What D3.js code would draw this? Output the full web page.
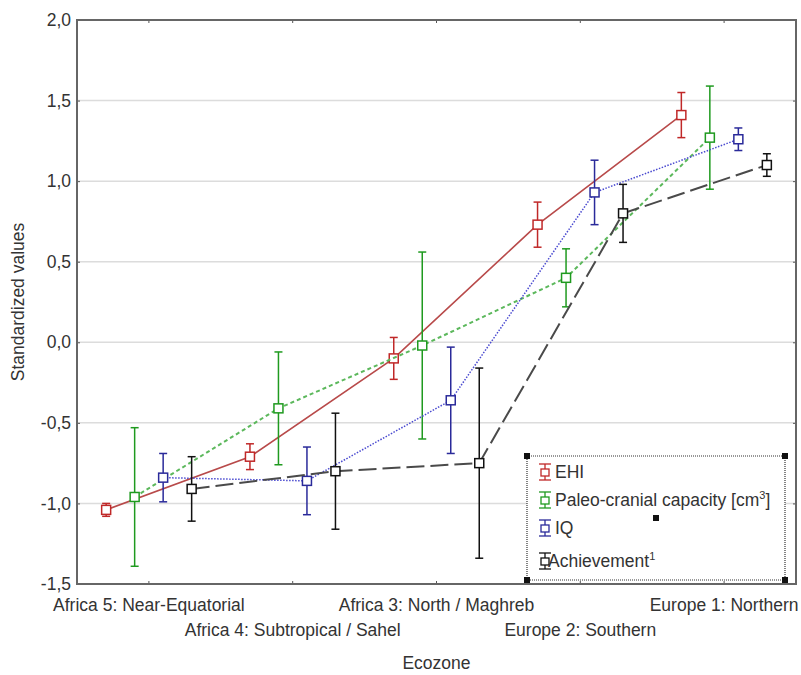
<!DOCTYPE html>
<html>
<head>
<meta charset="utf-8">
<script src="https://cdn.jsdelivr.net/npm/d3@7"></script>
<style>
  body { margin: 0; background: #fff; }
  svg { font-family: 'Liberation Sans', Arial, sans-serif; }
</style>
</head>
<body>
<svg class="canvas" width="801" height="675"></svg>
<script>
'use strict'

const zones = [
  'Africa 5: Near-Equatorial',
  'Africa 4: Subtropical / Sahel',
  'Africa 3: North / Maghreb',
  'Europe 2: Southern',
  'Europe 1: Northern',
]
const seriesNames = ['EHI', 'Paleo-cranial capacity', 'IQ', 'Achievement']
const ehiMean = [-1.04, -0.71, -0.1, 0.73, 1.41]
const ehiErr = [0.04, 0.08, 0.13, 0.14, 0.14]
const paleoMean = [-0.96, -0.41, -0.02, 0.4, 1.27]
const paleoErr = [0.43, 0.35, 0.58, 0.18, 0.32]
const iqMean = [-0.84, -0.86, -0.36, 0.93, 1.26]
const iqErr = [0.15, 0.21, 0.33, 0.2, 0.07]
const achMean = [-0.91, -0.8, -0.75, 0.8, 1.1]
const achErr = [0.2, 0.36, 0.59, 0.18, 0.07]
const yTicks = [-1.5, -1, -0.5, 0, 0.5, 1, 1.5, 2]

const series = [
  { name: seriesNames[0], mean: ehiMean, err: ehiErr, line: '#b84a4a', bar: '#c02828', dash: null, w: 1.6 },
  { name: seriesNames[1], mean: paleoMean, err: paleoErr, line: '#5cb85c', bar: '#1f9a1f', dash: '4,3', w: 2 },
  { name: seriesNames[2], mean: iqMean, err: iqErr, line: '#4a4ad0', bar: '#2a2a9a', dash: '1.5,1.5', w: 1.5 },
  { name: seriesNames[3], mean: achMean, err: achErr, line: '#4a4a4a', bar: '#111', dash: '18,6', w: 2 },
]

const svg = d3.select('.canvas')
const pLeft = 77, pRight = 796, pTop = 20, pBottom = 584
const fontSize = 17.5

const x = d3.scaleBand().domain(zones).range([pLeft, pRight])
const y = d3.scaleLinear().domain([-1.5, 2]).range([pBottom, pTop])
const offset = i => (i - 1.5) * 28.5
const fmt = v => d3.format('.1f')(v).replace('.', ',').replace('−', '-')

// Gridlines.
svg.append('g')
  .selectAll('line')
  .data(yTicks.filter(t => t > -1.5 && t < 2))
  .enter()
  .append('line')
  .attr('x1', pLeft).attr('x2', pRight)
  .attr('y1', d => y(d)).attr('y2', d => y(d))
  .attr('stroke', '#dcdcdc').attr('stroke-width', 1.5)

// Axes.
const yAxis = svg.append('g')
  .attr('transform', `translate(${pLeft}, 0)`)
  .call(d3.axisLeft(y).tickValues(yTicks).tickFormat(fmt).tickSizeInner(-3).tickSizeOuter(0).tickPadding(6))
yAxis.selectAll('text').attr('font-size', fontSize).attr('fill', '#333')

svg.append('g')
  .attr('transform', `translate(${pRight}, 0)`)
  .call(d3.axisRight(y).tickValues(yTicks).tickFormat('').tickSizeInner(-3).tickSizeOuter(0))

const xAxis = svg.append('g')
  .attr('transform', `translate(0, ${pBottom})`)
  .call(d3.axisBottom(x).tickSizeInner(-3).tickSizeOuter(0).tickPadding(15))
xAxis.selectAll('text')
  .attr('font-size', fontSize).attr('fill', '#333')
  .attr('dy', (d, i) => (i % 2 ? '2.1em' : '0.71em'))

svg.append('g')
  .attr('transform', `translate(0, ${pTop})`)
  .call(d3.axisTop(x).tickFormat('').tickSizeInner(-3).tickSizeOuter(0))

svg.selectAll('.domain').remove()
svg.selectAll('.tick line').attr('stroke', '#555')

// Frame.
svg.append('rect')
  .attr('x', pLeft).attr('y', pTop)
  .attr('width', pRight - pLeft).attr('height', pBottom - pTop)
  .attr('fill', 'none').attr('stroke', '#666').attr('stroke-width', 2)

// Axis titles.
svg.append('text')
  .attr('transform', `translate(24, ${(pTop + pBottom) / 2}) rotate(-90)`)
  .attr('text-anchor', 'middle')
  .attr('font-size', fontSize).attr('fill', '#333')
  .text('Standardized values')
svg.append('text')
  .attr('x', (pLeft + pRight) / 2).attr('y', 669)
  .attr('text-anchor', 'middle')
  .attr('font-size', fontSize).attr('fill', '#333')
  .text('Ecozone')

// Lines, error bars and markers.
series.forEach((s, i) => {
  const pts = zones.map((z, j) => ({ x: x(z) + x.bandwidth() / 2 + offset(i), m: s.mean[j], e: s.err[j] }))
  svg.append('path')
    .datum(pts)
    .attr('d', d3.line().x(d => d.x).y(d => y(d.m)))
    .attr('fill', 'none')
    .attr('stroke', s.line).attr('stroke-width', s.w)
    .attr('stroke-dasharray', s.dash)

  const g = svg.append('g').selectAll('g').data(pts).enter().append('g')
  g.append('line')
    .attr('x1', d => d.x).attr('x2', d => d.x)
    .attr('y1', d => y(d.m + d.e)).attr('y2', d => y(d.m - d.e))
    .attr('stroke', s.bar).attr('stroke-width', 1.5)
  ;[1, -1].forEach(sign => {
    g.append('line')
      .attr('x1', d => d.x - 4).attr('x2', d => d.x + 4)
      .attr('y1', d => y(d.m + sign * d.e)).attr('y2', d => y(d.m + sign * d.e))
      .attr('stroke', s.bar).attr('stroke-width', 1.5)
  })
  g.append('rect')
    .attr('x', d => d.x - 4.5).attr('y', d => y(d.m) - 4.5)
    .attr('width', 9).attr('height', 9)
    .attr('fill', '#fff').attr('stroke', s.bar).attr('stroke-width', 1.5)
})

// Legend.
const lx = 527, ly = 456, lw = 258, lh = 124
const rowY = [472, 500, 528, 561]
const legend = svg.append('g')
legend.append('rect')
  .attr('x', lx).attr('y', ly).attr('width', lw).attr('height', lh)
  .attr('fill', '#fff').attr('stroke', '#333').attr('stroke-width', 1.2)
  .attr('stroke-dasharray', '1,1')
;[[lx, ly], [lx + lw, ly], [lx, ly + lh], [lx + lw, ly + lh], [lx + lw / 2, ly + lh / 2]].forEach(([hx, hy]) => {
  legend.append('rect')
    .attr('x', hx - 3).attr('y', hy - 3).attr('width', 6).attr('height', 6)
    .attr('fill', '#111')
})

const items = legend.selectAll('.item')
  .data(series)
  .enter()
  .append('g')
  .attr('class', 'item')
  .attr('transform', (d, i) => `translate(${lx + 18}, ${rowY[i]})`)
items.append('line')
  .attr('x1', 0).attr('x2', 0).attr('y1', -8).attr('y2', 8)
  .attr('stroke', d => d.bar).attr('stroke-width', 1.3)
items.selectAll('.cap')
  .data(d => [-8, 8].map(v => ({ v, c: d.bar })))
  .enter()
  .append('line')
  .attr('x1', -6).attr('x2', 6)
  .attr('y1', d => d.v).attr('y2', d => d.v)
  .attr('stroke', d => d.c).attr('stroke-width', 1.3)
items.append('rect')
  .attr('x', -4).attr('y', -3).attr('width', 8).attr('height', 7)
  .attr('fill', '#fff').attr('stroke', d => d.bar).attr('stroke-width', 1.3)

const labels = items.append('text')
  .attr('x', (d, i) => (i === 3 ? 3 : 10)).attr('y', 6)
  .attr('font-size', fontSize).attr('fill', '#333')
labels.append('tspan').text(d => d.name)
labels.filter((d, i) => i === 1).append('tspan').text(' [cm')
labels.filter((d, i) => i === 1).append('tspan').attr('dy', -7).attr('font-size', 11).text('3')
labels.filter((d, i) => i === 1).append('tspan').attr('dy', 7).text(']')
labels.filter((d, i) => i === 3).append('tspan').attr('dy', -7).attr('font-size', 11).text('1')
</script>
</body>
</html>
